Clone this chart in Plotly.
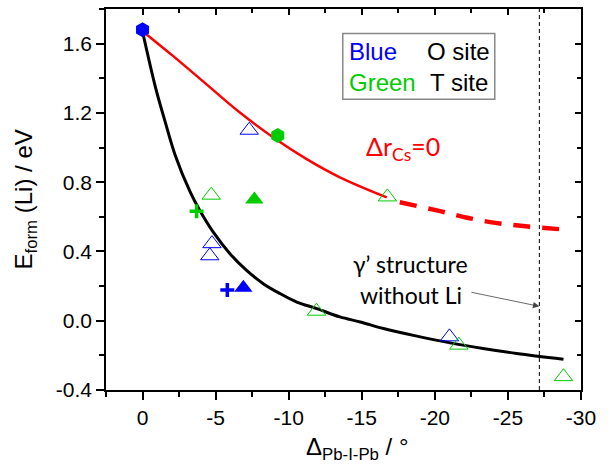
import plotly.graph_objects as go

# ---------------- data ----------------
# fitted trend lines
red_solid_x = [0, -2.1, -4.38, -6.66, -8.95, -11.23, -13.5, -16.71]
red_solid_y = [1.672, 1.528, 1.365, 1.202, 1.058, 0.933, 0.828, 0.712]
red_dash_x = [-17.6, -20.2, -22.2, -24.15, -26.2, -28.8]
red_dash_y = [0.684, 0.636, 0.595, 0.565, 0.545, 0.527]
black_x = [0, -0.89, -1.53, -2.21, -3.25, -3.92, -4.84, -5.98, -7.12, -8.26, -9.40,
           -10.55, -11.92, -13.5, -14.9, -16.48, -18.77, -21.05, -23.3, -25.6, -28.8]
black_y = [1.67, 1.346, 1.154, 0.962, 0.745, 0.636, 0.511, 0.387, 0.291, 0.214, 0.157,
           0.108, 0.070, 0.022, -0.007, -0.045, -0.089, -0.128, -0.160, -0.189, -0.222]

# data points
blue_hex_x = [0];                 blue_hex_y = [1.68]
green_hex_x = [-9.25];            green_hex_y = [1.07]
blue_open_tri_x = [-7.3, -4.75, -4.6, -21.0]
blue_open_tri_y = [1.10, 0.445, 0.375, -0.093]
green_open_tri_x = [-4.7, -16.75, -11.9, -21.64, -28.8]
green_open_tri_y = [0.725, 0.715, 0.055, -0.141, -0.323]
blue_tri_x = [-6.9];              blue_tri_y = [0.19]
green_tri_x = [-7.65];            green_tri_y = [0.70]
blue_plus_x = [-5.8];             blue_plus_y = [0.178]
green_plus_x = [-3.7];            green_plus_y = [0.632]

gamma_x = -27.15

x_ticks = [0, -5, -10, -15, -20, -25, -30]
x_ticktext = ["0", "-5", "-10", "-15", "-20", "-25", "-30"]
y_ticks = [-0.4, 0.0, 0.4, 0.8, 1.2, 1.6]
y_ticktext = ["-0.4", "0.0", "0.4", "0.8", "1.2", "1.6"]

BLUE = "#0000FF"
GREEN = "#00CC00"
RED = "#FF0000"

fig = go.Figure()

fig.add_trace(go.Scatter(x=red_solid_x, y=red_solid_y, mode="lines",
                         line=dict(color=RED, width=2.5, shape="spline",
                                   smoothing=1, simplify=False)))
fig.add_trace(go.Scatter(x=red_dash_x, y=red_dash_y, mode="lines",
                         line=dict(color=RED, width=4.5, shape="spline", smoothing=1,
                                   simplify=False, dash="17px,12px")))
fig.add_trace(go.Scatter(x=black_x, y=black_y, mode="lines",
                         line=dict(color="black", width=3, shape="spline",
                                   smoothing=1, simplify=False)))

def pts(x, y, symbol, color, size, lw=1):
    fig.add_trace(go.Scatter(x=x, y=y, mode="markers",
                             marker=dict(symbol=symbol, color=color, size=size,
                                         line=dict(color=color, width=lw))))

pts(blue_hex_x, blue_hex_y, "hexagon", BLUE, 15, 0)
pts(green_hex_x, green_hex_y, "hexagon", GREEN, 15, 0)
pts(blue_open_tri_x, blue_open_tri_y, "triangle-up-open", BLUE, 16, 1)
pts(green_open_tri_x, green_open_tri_y, "triangle-up-open", GREEN, 16, 1)
pts(blue_tri_x, blue_tri_y, "triangle-up", BLUE, 16, 0)
pts(green_tri_x, green_tri_y, "triangle-up", GREEN, 16, 0)
pts(blue_plus_x, blue_plus_y, "cross-thin-open", BLUE, 10, 3.5)
pts(green_plus_x, green_plus_y, "cross-thin-open", GREEN, 10, 3.5)

# dummy trace for mirrored inner-tick axes
fig.add_trace(go.Scatter(x=[None], y=[None], xaxis="x2", yaxis="y2", showlegend=False))

TF = dict(family="Liberation Sans, Arial, sans-serif", size=21, color="black")

fig.update_layout(
    width=610, height=466,
    margin=dict(l=106, r=29, t=7, b=76),
    paper_bgcolor="white", plot_bgcolor="white",
    showlegend=False,
    xaxis=dict(range=[2.5, -30], tickvals=x_ticks, ticktext=x_ticktext,
               showline=True, mirror=True, linecolor="black", linewidth=1.5,
               ticks="outside", ticklen=8, tickwidth=1.5, tickcolor="black",
               minor=dict(dtick=2.5, tick0=0, ticks="outside", ticklen=5,
                          tickwidth=1.5, tickcolor="black"),
               showgrid=False, zeroline=False, tickfont=TF),
    yaxis=dict(range=[-0.4, 1.8], tickvals=y_ticks, ticktext=y_ticktext,
               showline=True, mirror=True, linecolor="black", linewidth=1.5,
               ticks="outside", ticklen=8, tickwidth=1.5, tickcolor="black",
               minor=dict(dtick=0.2, tick0=0, ticks="outside", ticklen=5,
                          tickwidth=1.5, tickcolor="black"),
               showgrid=False, zeroline=False, tickfont=TF),
    xaxis2=dict(overlaying="x", side="top", range=[2.5, -30], tickvals=x_ticks,
                showticklabels=False, ticks="inside", ticklen=6, tickwidth=1.5,
                tickcolor="black",
                minor=dict(dtick=2.5, tick0=0, ticks="inside", ticklen=4,
                           tickwidth=1.5, tickcolor="black"),
                showgrid=False, zeroline=False, showline=False),
    yaxis2=dict(overlaying="y", side="right", range=[-0.4, 1.8], tickvals=y_ticks,
                showticklabels=False, ticks="inside", ticklen=6, tickwidth=1.5,
                tickcolor="black",
                minor=dict(dtick=0.2, tick0=0, ticks="inside", ticklen=4,
                           tickwidth=1.5, tickcolor="black"),
                showgrid=False, zeroline=False, showline=False),
)

# vertical dashed line
fig.add_shape(type="line", xref="x", yref="paper", x0=gamma_x, x1=gamma_x, y0=0, y1=1,
              line=dict(color="black", width=1, dash="4px,3px"))

# legend box
fig.add_shape(type="rect", xref="x", yref="y", x0=-13.7, x1=-24.1, y0=1.279, y1=1.659,
              line=dict(color="#888888", width=1.5), fillcolor="white", layer="above")

LF = "Liberation Sans, Arial, sans-serif"
for txt, x, y, col in [("Blue", -13.97, 1.553, BLUE), ("O site", -19.34, 1.553, "black"),
                       ("Green", -13.97, 1.378, GREEN), ("T site", -19.51, 1.378, "black")]:
    fig.add_annotation(x=x, y=y, xref="x", yref="y", text=txt, showarrow=False,
                       xanchor="left", yanchor="middle",
                       font=dict(family=LF, size=24, color=col))

# red label
fig.add_annotation(x=-17.8, y=1.0, xref="x", yref="y", text="Δr<sub>Cs</sub>=0",
                   showarrow=False, xanchor="center", yanchor="middle",
                   font=dict(family="Lato, sans-serif", size=25, color=RED))

# gamma structure text
fig.add_annotation(x=-18.35, y=0.33, xref="x", yref="y", text="γ’ structure",
                   showarrow=False, xanchor="center", yanchor="middle",
                   font=dict(family="Lato, sans-serif", size=23, color="black"))
fig.add_annotation(x=-18.35, y=0.147, xref="x", yref="y", text="without Li",
                   showarrow=False, xanchor="center", yanchor="middle",
                   font=dict(family="Lato, sans-serif", size=23, color="black"))
# arrow
fig.add_annotation(x=gamma_x, y=0.083, ax=-22.4, ay=0.166, xref="x", yref="y",
                   axref="x", ayref="y", text="", showarrow=True,
                   arrowhead=2, arrowsize=1.6, arrowwidth=0.8, arrowcolor="#444444",
                   standoff=0)

# axis titles
fig.add_annotation(x=0, y=0.5, xref="paper", yref="paper", xshift=-81,
                   text="E<sub>form</sub> (Li) / eV", textangle=-90, showarrow=False,
                   xanchor="center", yanchor="middle",
                   font=dict(family=LF, size=24, color="black"))
fig.add_annotation(x=0.5, y=0, xref="paper", yref="paper", xshift=14, yshift=-58,
                   text="Δ<sub>Pb-I-Pb</sub> / °", showarrow=False,
                   xanchor="center", yanchor="middle",
                   font=dict(family=LF, size=24, color="black"))

fig.write_html("out.html")
